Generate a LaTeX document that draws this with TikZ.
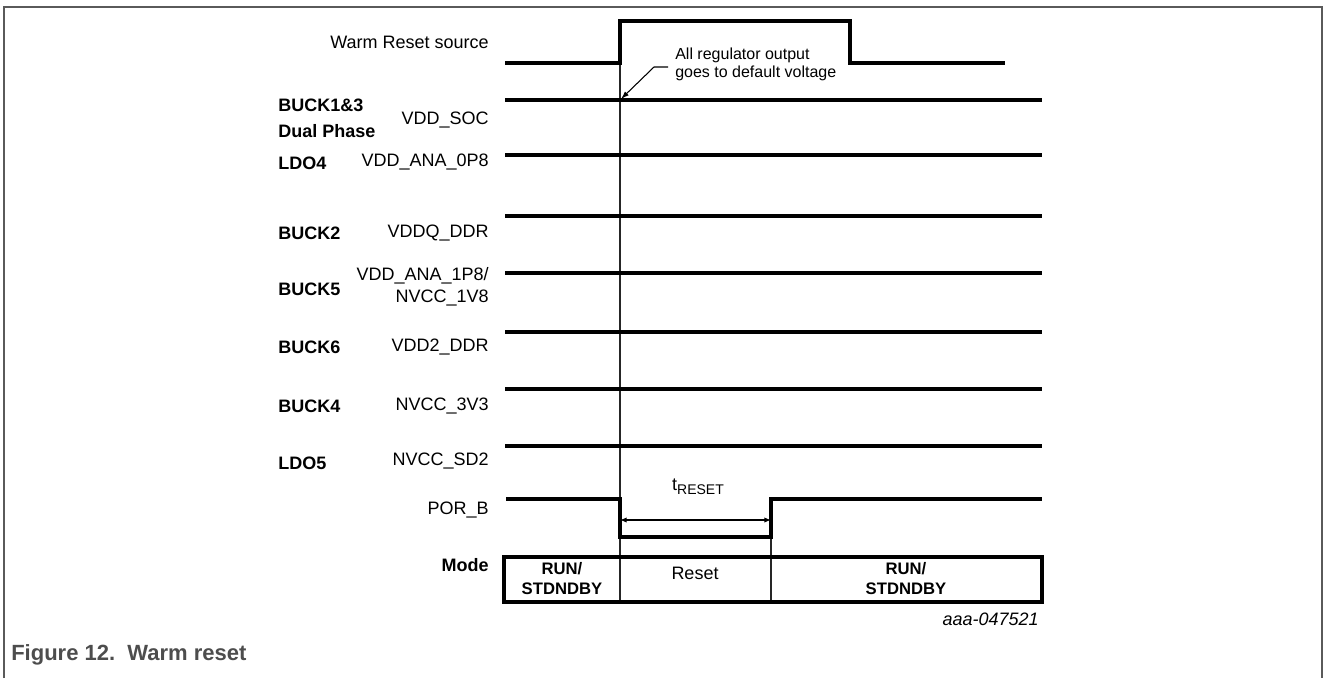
\documentclass[tikz,border=0pt]{standalone}
\usepackage{fontspec}
\setmainfont{Liberation Sans}
\usetikzlibrary{arrows.meta,positioning,calc}
\definecolor{framegray}{RGB}{90,90,90}
\definecolor{captiongray}{RGB}{77,77,77}

\begin{document}
\begin{tikzpicture}[x=0.75pt, y=-0.75pt,
    font=\fontsize{13.5}{16}\selectfont,
    wave/.style={draw=black, line width=2.3pt},
    guide/.style={draw=black!85, line width=0.8pt},
    netlabel/.style={anchor=east, align=right, inner sep=0pt, font=\fontsize{13.5}{16.5}\selectfont},
    railname/.style={anchor=west, align=left, inner sep=0pt, font=\fontsize{13.5}{19.5}\selectfont\bfseries},
    modecell/.style={align=center, inner sep=0pt, font=\fontsize{12.5}{15}\selectfont\bfseries},
    modebox/.style={draw=black, line width=2.4pt},
    note/.style={anchor=west, align=left, inner sep=0pt, font=\fontsize{12}{13.5}\selectfont},
    leader/.style={draw=black, line width=0.8pt, -{Latex[length=6pt,width=4pt]}},
    span/.style={draw=black, line width=0.8pt, {Latex[length=5pt,width=4pt]}-{Latex[length=5pt,width=4pt]}}]

    % canvas of 1326 x 678 px, y runs downwards
    \useasboundingbox (0,0) rectangle (1326,678);
    \draw[framegray, line width=1.2pt] (4,678) -- (4,7) -- (1322,7) -- (1322,678);

    % edge times and line ends
    \def\tReset{620}
    \def\tPor{771}
    \def\tSrc{850}
    \def\xL{505}
    \def\xR{1042}

    % time markers
    \draw[guide] (\tReset,63) -- (\tReset,602);
    \draw[guide] (\tPor,537) -- (\tPor,602);

    % Warm reset source
    \node[netlabel] (src) at (489,42) {Warm Reset source};
    \draw[wave] (\xL,63) -- (\tReset,63) -- (\tReset,21) -- (\tSrc,21) -- (\tSrc,63) -- (1005,63);

    % regulator rails
    \foreach \y/\ny/\net in {100/120/VDD\_SOC, 155/162/VDD\_ANA\_0P8, 216/233/VDDQ\_DDR,
        273/287/{VDD\_ANA\_1P8/\\NVCC\_1V8}, 332/347/VDD2\_DDR, 389/406/NVCC\_3V3, 446/461/NVCC\_SD2} {
        \node[netlabel] (net\y) at (489,\ny) {\net};
        \draw[wave] (\xL,\y) -- (\xR,\y);
    }
    \foreach \y/\rail in {118/{BUCK1\&3\\Dual Phase}, 163/LDO4, 233/BUCK2, 289/BUCK5,
        347/BUCK6, 406/BUCK4, 463/LDO5} {
        \node[railname] (rail\y) at (278,\y) {\rail};
    }

    % note on the rails
    \node[note] (regnote) at (675,64) {All regulator output\\goes to default voltage};
    \coordinate (socedge) at (621,99);
    \draw[leader] ($(regnote.west)+(-7,3)$) -- ++(-14,0) -- (socedge);

    % POR_B
    \node[netlabel] (por) at (489,510) {POR\_B};
    \draw[wave] (506,499) -- (\tReset,499) -- (\tReset,537) -- (\tPor,537) -- (\tPor,499) -- (\xR,499);
    \coordinate (resetstart) at (\tReset,520);
    \coordinate (resetend) at (\tPor,520);
    \draw[span] (resetstart) -- (resetend);
    \node (tres) at (698,487) {t\raisebox{-0.4ex}{\fontsize{10.5}{12}\selectfont RESET}};

    % Mode row
    \node[netlabel, font=\fontsize{13.5}{16}\selectfont\bfseries] (mode) at (489,565) {Mode};
    \draw[modebox] (504,557) rectangle (\xR,602);
    \node[modecell] (run1) at (562,579) {RUN/\\STDNDBY};
    \node[modecell, font=\fontsize{13.5}{16}\selectfont] (reset) at (695,573) {Reset};
    \node[modecell] (run2) at (906,579) {RUN/\\STDNDBY};

    \node[anchor=east, inner sep=0pt, font=\fontsize{13.5}{16}\selectfont\itshape] (figid) at (1039,619) {aaa-047521};
    \node[anchor=west, inner sep=0pt, text=captiongray, font=\fontsize{16.5}{19}\selectfont\bfseries] (caption) at (11,655) {Figure 12.\ \ Warm reset};
\end{tikzpicture}
\end{document}
